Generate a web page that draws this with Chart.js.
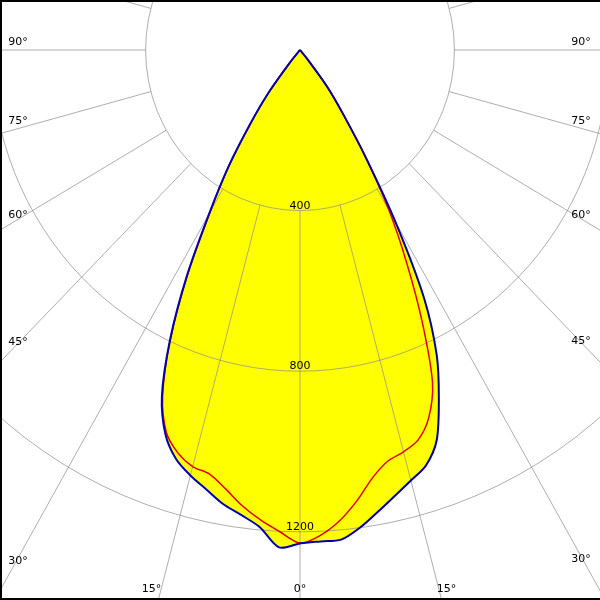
<!DOCTYPE html>
<html>
<head>
<meta charset="utf-8">
<script src="https://cdn.jsdelivr.net/npm/chart.js@4.4.1/dist/chart.umd.min.js"></script>
<style>
    html, body { margin: 0; padding: 0; background: #fff; }
</style>
</head>
<body>
<canvas id="ldc" width="600" height="600"></canvas>
<script>
;(() => {
    // gamma angles (deg), luminous intensity (cd) per half plane
    const angles = [0, 2.5, 5, 7.5, 10, 12.5, 15, 17.5, 20, 22.5, 25, 27.5, 30, 32.5, 35, 37.5, 40, 42.5, 45]
    const c0 = [1229, 1225, 1224, 1199, 1167, 1137, 1110, 1085, 1035, 940, 838, 695, 495, 317, 195, 117, 30, 0, 0]
    const c180 = [1229, 1240, 1193, 1168, 1148, 1121, 1097, 1068, 1019, 935, 797, 635, 470, 346, 225, 132, 40, 0, 0]
    const c90 = [1228, 1210, 1177, 1132, 1082, 1049, 1036, 1018, 975, 897, 751, 600, 461, 315, 190, 117, 30, 0, 0]
    const c270 = [1226, 1201, 1175, 1145, 1110, 1082, 1074, 1052, 1013, 930, 793, 630, 465, 342, 222, 130, 40, 0, 0]

    const ringValues = [400, 800, 1200]
    const sideAngles = [90, 75, 60, 45, 30]
    const bottomAngles = [15, 0]

    const rad = (d) => (d * Math.PI) / 180

    // right half plane goes from the tip down to nadir, left half back up
    const toPoints = (right, left) => {
        const pts = []
        for (let i = angles.length - 1; i >= 0; i--) {
            pts.push({ x: right[i] * Math.sin(rad(angles[i])), y: -right[i] * Math.cos(rad(angles[i])) })
        }
        for (let i = 1; i < angles.length; i++) {
            pts.push({ x: -left[i] * Math.sin(rad(angles[i])), y: -left[i] * Math.cos(rad(angles[i])) })
        }
        return pts
    }

    const blue = toPoints(c0, c180)
    const red = toPoints(c90, c270)

    const labelNudge = { 90: -8, 75: -7, 60: -4, 45: -1, 30: 3 }

    const drawGrid = (chart) => {
        const { ctx, chartArea, scales } = chart
        const sx = scales.x
        const sy = scales.y
        const cx = sx.getPixelForValue(0)
        const cy = sy.getPixelForValue(0)
        ctx.save()
        ctx.beginPath()
        ctx.rect(chartArea.left, chartArea.top, chartArea.right - chartArea.left, chartArea.bottom - chartArea.top)
        ctx.clip()
        ctx.strokeStyle = 'rgba(140,140,140,0.7)'
        ctx.lineWidth = 1
        ringValues.forEach((r) => {
            const rx = sx.getPixelForValue(r) - cx
            const ry = sy.getPixelForValue(-r) - cy
            ctx.beginPath()
            ctx.ellipse(cx, cy, rx, ry, 0, 0, Math.PI * 2)
            ctx.stroke()
        })
        for (let a = 0; a < 360; a += 15) {
            const p = (r) => [sx.getPixelForValue(r * Math.sin(rad(a))), sy.getPixelForValue(-r * Math.cos(rad(a)))]
            const [x1, y1] = p(ringValues[0])
            const [x2, y2] = p(5000)
            ctx.beginPath()
            ctx.moveTo(x1, y1)
            ctx.lineTo(x2, y2)
            ctx.stroke()
        }
        ctx.restore()
    }

    const drawLabels = (chart) => {
        const { ctx, scales } = chart
        const sx = scales.x
        const sy = scales.y
        const cx = sx.getPixelForValue(0)
        const cy = sy.getPixelForValue(0)
        const kx = sx.getPixelForValue(1) - cx
        const ky = sy.getPixelForValue(-1) - cy
        ctx.save()
        ctx.fillStyle = '#000'
        ctx.font = '11px "DejaVu Sans"'

        ctx.textAlign = 'center'
        ctx.textBaseline = 'alphabetic'
        ringValues.forEach((r) => {
            ctx.fillText(String(r), cx, sy.getPixelForValue(-r) - 2)
        })

        ctx.textBaseline = 'middle'
        sideAngles.forEach((a) => {
            ;[18, 581].forEach((X) => {
                const t = Math.abs(X - cx) / (kx * Math.sin(rad(a)))
                const Y = cy + t * Math.cos(rad(a)) * ky
                ctx.fillText(a + '°', X, Y + labelNudge[a])
            })
        })

        const by = 589
        bottomAngles.forEach((a) => {
            if (a === 0) {
                ctx.textAlign = 'center'
                ctx.fillText('0°', cx, by)
                return
            }
            const t = (by - cy) / (ky * Math.cos(rad(a)))
            const dx = t * Math.sin(rad(a)) * kx
            ctx.textAlign = 'right'
            ctx.fillText(a + '°', cx - dx, by)
            ctx.textAlign = 'left'
            ctx.fillText(a + '°', cx + dx - 2, by)
        })

        ctx.fillRect(0, 0, 600, 2)
        ctx.fillRect(0, 0, 2, 600)
        ctx.fillRect(0, 598, 600, 2)
        ctx.restore()
    }

    const gridPlugin = {
        id: 'ldcGrid',
        afterDatasetDraw: (chart, args) => {
            if (args.index === 2) drawGrid(chart)
        },
        afterDraw: (chart) => drawLabels(chart),
    }

    new Chart(document.getElementById('ldc'), {
        type: 'scatter',
        data: {
            datasets: [
                {
                    label: 'C0 - C180',
                    data: blue,
                    showLine: true,
                    borderColor: 'rgb(0,0,170)',
                    borderWidth: 2,
                    pointRadius: 0,
                    tension: 0.3,
                    fill: false,
                },
                {
                    label: 'C90 - C270',
                    data: red,
                    showLine: true,
                    borderColor: 'rgb(225,0,0)',
                    borderWidth: 1.5,
                    pointRadius: 0,
                    tension: 0.3,
                    fill: false,
                },
                {
                    label: 'area',
                    data: blue,
                    showLine: true,
                    borderWidth: 0,
                    borderColor: 'rgba(0,0,0,0)',
                    backgroundColor: '#ffff00',
                    pointRadius: 0,
                    tension: 0.3,
                    fill: 'shape',
                },
            ],
        },
        options: {
            responsive: false,
            animation: false,
            layout: { padding: 0 },
            plugins: {
                legend: { display: false },
                tooltip: { enabled: false },
            },
            scales: {
                x: { type: 'linear', display: false, min: -777.2, max: 777.2 },
                y: { type: 'linear', display: false, min: -1369.8, max: 124.5 },
            },
        },
        plugins: [gridPlugin],
    })
})()
</script>
</body>
</html>
